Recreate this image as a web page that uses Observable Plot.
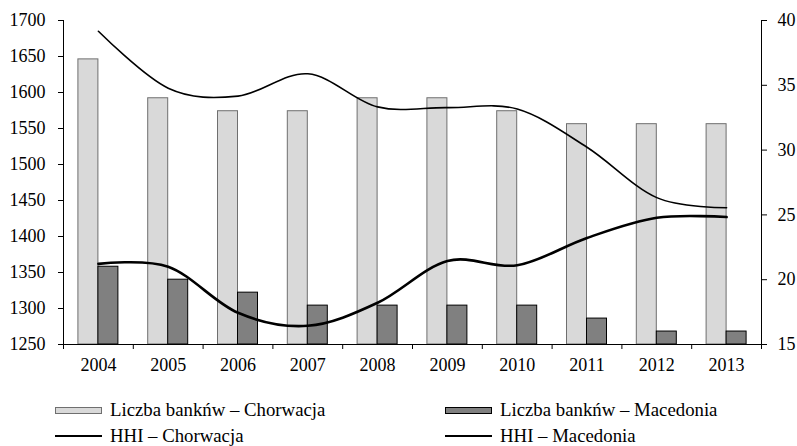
<!DOCTYPE html>
<html><head><meta charset="utf-8">
<script src="https://cdn.jsdelivr.net/npm/d3@7"></script>
<script src="https://cdn.jsdelivr.net/npm/@observablehq/plot@0.6"></script>
<style>
body{margin:0;background:#fff;font-family:"Liberation Serif","Times New Roman",serif;}
#wrap{position:relative;width:797px;height:446px;overflow:hidden;}
.leg{position:absolute;font-size:18.8px;line-height:20px;color:#000;display:flex;align-items:center;white-space:nowrap;}
.sw{width:47px;height:7px;box-sizing:border-box;margin-right:8px;}
.ln{width:47px;margin-right:8px;background:#000;}
</style></head>
<body><div id="wrap"><div id="chart"></div>
<div class="leg" style="left:55px;top:400px"><div class="sw" style="background:#d9d9d9;border:1px solid #6f6f6f"></div>Liczba bankńw – Chorwacja</div>
<div class="leg" style="left:445px;top:400px"><div class="sw" style="background:#808080;border:1px solid #000"></div>Liczba bankńw – Macedonia</div>
<div class="leg" style="left:55px;top:426px"><div class="ln" style="height:2.5px"></div>HHI – Chorwacja</div>
<div class="leg" style="left:445px;top:426px"><div class="ln" style="height:1.5px"></div>HHI – Macedonia</div>
</div>
<script>
const years = [2004, 2005, 2006, 2007, 2008, 2009, 2010, 2011, 2012, 2013];
const banksCroatia = [37, 34, 33, 33, 34, 34, 33, 32, 32, 32];
const banksMacedonia = [21, 20, 19, 18, 18, 18, 18, 17, 16, 16];
const hhiCroatia = [1362, 1358, 1294, 1276, 1308, 1366, 1360, 1398, 1426, 1427];
const hhiMacedonia = [1685, 1606, 1595, 1626, 1580, 1579, 1577, 1524, 1454, 1440];
const leftTicks = [1250, 1300, 1350, 1400, 1450, 1500, 1550, 1600, 1650, 1700];
const rightTicks = [15, 20, 25, 30, 35, 40];

// map right-axis (bank count) values onto the left-axis domain
const toLeft = v => 1250 + (v - 15) * 18;
const fromLeft = v => Math.round((v - 1250) / 18 + 15);

const rows = years.map((year, i) => ({
  year, hr: banksCroatia[i], mk: banksMacedonia[i], hhiHR: hhiCroatia[i], hhiMK: hhiMacedonia[i]
}));
const bw = 0.2865;
const boundaries = years.map(y => y - 0.5).concat([years[years.length - 1] + 0.5]);

const chart = Plot.plot({
  width: 797, height: 380,
  marginLeft: 63, marginRight: 36, marginTop: 20, marginBottom: 36,
  style: {fontFamily: "Liberation Serif, Times New Roman, serif", fontSize: "18px", color: "#000", background: "#fff"},
  x: {type: "linear", domain: [boundaries[0], boundaries[boundaries.length - 1]]},
  y: {domain: [1250, 1700]},
  marks: [
    Plot.rect(rows, {x1: d => d.year - bw, x2: d => d.year, y1: () => 1250, y2: d => toLeft(d.hr), fill: "#d9d9d9", stroke: "#6f6f6f", strokeWidth: 1}),
    Plot.rect(rows, {x1: d => d.year, x2: d => d.year + bw, y1: () => 1250, y2: d => toLeft(d.mk), fill: "#808080", stroke: "#000", strokeWidth: 1}),
    Plot.line(rows, {x: "year", y: "hhiHR", curve: "cardinal", tension: 0, stroke: "#000", strokeWidth: 2.6}),
    Plot.line(rows, {x: "year", y: "hhiMK", curve: "cardinal", tension: 0, stroke: "#000", strokeWidth: 1.6}),
    Plot.ruleY([1250], {stroke: "#000"}),
    Plot.ruleX([boundaries[0], boundaries[boundaries.length - 1]], {stroke: "#000"}),
    Plot.axisY({ticks: leftTicks, tickSize: 5, tickPadding: 13, label: null, tickFormat: d => String(d)}),
    Plot.axisY({anchor: "right", ticks: rightTicks.map(toLeft), tickFormat: v => String(fromLeft(v)), tickSize: 5, tickPadding: 11, label: null}),
    Plot.axisX({ticks: boundaries, tickSize: 5, tickFormat: () => "", label: null}),
    Plot.axisX({ticks: years, tickSize: 0, tickPadding: 14, tickFormat: d => String(d), label: null})
  ]
});
document.getElementById("chart").appendChild(chart);
</script>
</body></html>
